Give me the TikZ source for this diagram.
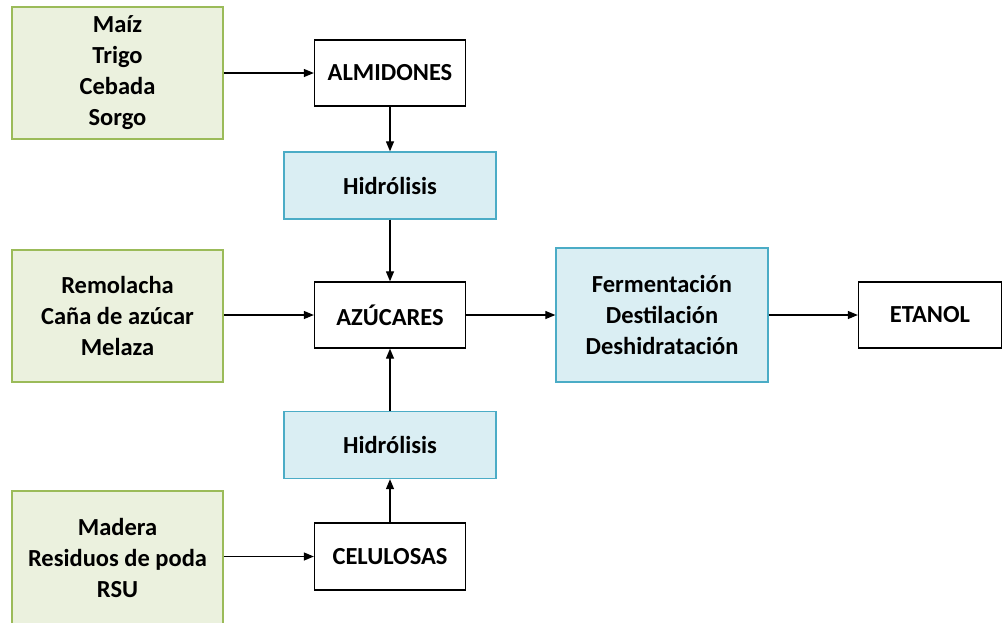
\documentclass[tikz,border=0pt]{standalone}
\usepackage{fontspec}
\setmainfont{Carlito}
\usetikzlibrary{arrows.meta}
\definecolor{gfill}{HTML}{EBF1DE}
\definecolor{gline}{HTML}{9BBB59}
\definecolor{bfill}{HTML}{DAEEF3}
\definecolor{bline}{HTML}{4BACC6}
\begin{document}
\begin{tikzpicture}[x=1pt,y=-1pt,
  base/.style={rectangle, align=center, font=\fontsize{24.5}{31}\selectfont\bfseries, inner sep=0pt},
  src/.style={base, draw=gline, fill=gfill, line width=1.5pt, minimum width=211pt, minimum height=132pt},
  proc/.style={base, draw=bline, fill=bfill, line width=1.3pt, minimum width=212pt},
  prod/.style={base, draw=black, fill=white, line width=1.3pt, minimum width=151pt, minimum height=66pt},
  arr/.style={-{Triangle[length=10pt,width=8pt]}, line width=1.2pt, black}]
\useasboundingbox (0,0) rectangle (1002,622);
\clip (0,0) rectangle (1002,622);
\node[src] (g1) at (117.5,73) {Maíz\\Trigo\\Cebada\\Sorgo};
\node[src] (g2) at (117.5,316) {Remolacha\\Caña de azúcar\\Melaza};
\node[src, minimum height=134pt] (g3) at (117.5,558) {Madera\\Residuos de poda\\RSU};
\node[prod] (alm) at (390,73) {ALMIDONES};
\node[proc, minimum height=67pt] (h1) at (390,185.5) {Hidrólisis};
\node[prod] (azu) at (390,315) {AZÚCARES};
\node[proc, minimum height=67pt] (h2) at (390,445) {Hidrólisis};
\node[prod, minimum height=67pt] (cel) at (390,556.5) {CELULOSAS};
\node[proc, minimum height=134pt] (fer) at (662,315) {Fermentación\\Destilación\\Deshidratación};
\node[prod, minimum width=143pt] (eta) at (930,315) {ETANOL};
\draw[arr] (g1.east) -- (alm.west);
\draw[arr] (alm.south) -- (h1.north);
\draw[arr] (h1.south) -- (azu.north);
\draw[arr] (azu.west -| g2.east) -- (azu.west);
\draw[arr] (azu.east) -- (fer.west);
\draw[arr] (fer.east) -- (eta.west);
\draw[arr] (cel.west -| g3.east) -- (cel.west);
\draw[arr] (cel.north) -- (h2.south);
\draw[arr] (h2.north) -- (azu.south);
\end{tikzpicture}
\end{document}
